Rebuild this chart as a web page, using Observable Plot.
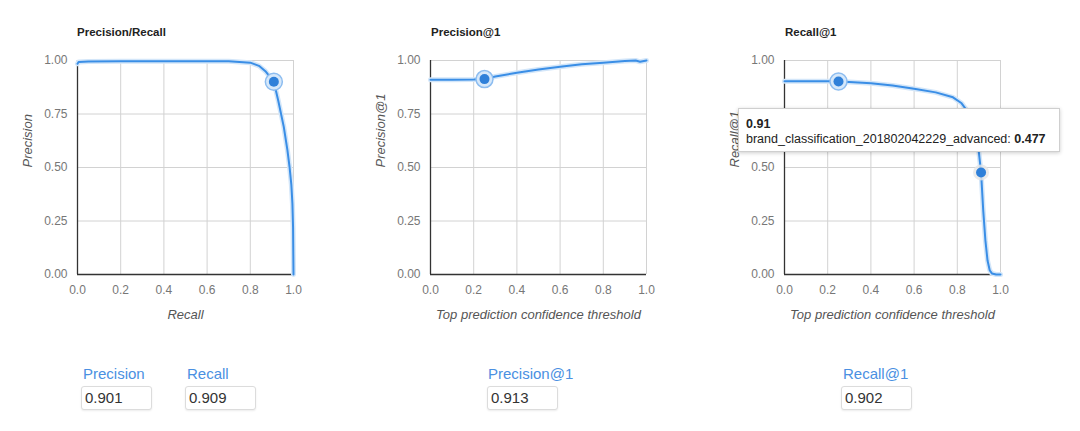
<!DOCTYPE html>
<html><head><meta charset="utf-8">
<script src="https://cdn.jsdelivr.net/npm/d3@7"></script>
<script src="https://cdn.jsdelivr.net/npm/@observablehq/plot@0.6"></script>
<style>
body{margin:0;background:#fff;font-family:"Liberation Sans",Arial,sans-serif;}
#root{position:relative;width:1080px;height:431px;overflow:hidden;background:#fff;}
.title{position:absolute;top:26px;font-weight:bold;font-size:11.5px;color:#222;line-height:12px;white-space:nowrap;}
.panel{position:absolute;top:44px;}
.flabel{position:absolute;top:366px;font-size:15px;color:#4a90e2;line-height:15px;white-space:nowrap;}
.fbox{position:absolute;top:386px;width:71px;height:24px;border:1px solid #dcdcdc;border-radius:3px;box-shadow:0 1px 2px rgba(0,0,0,0.08);font-size:15px;color:#333;line-height:22px;padding-left:3px;box-sizing:border-box;background:#fff;}
.tip{position:absolute;left:738px;top:108px;width:322px;height:44px;background:#fff;border:1px solid #cfcfcf;box-shadow:0 1px 4px rgba(0,0,0,0.2);box-sizing:border-box;}
.tip div{position:absolute;left:7px;font-size:12.5px;line-height:12px;color:#222;white-space:nowrap;}
</style>
</head><body>
<div id="root"></div>
<script>
// ---- data ----
const prRecall    = [0, 0.005, 0.05, 0.2, 0.4, 0.6, 0.7, 0.8, 0.84, 0.87, 0.9, 0.909, 0.93, 0.955, 0.972, 0.982, 0.99, 0.995, 0.998, 1.0];
const prPrecision = [0.985, 0.993, 0.995, 0.996, 0.997, 0.997, 0.996, 0.99, 0.975, 0.95, 0.912, 0.901, 0.81, 0.69, 0.58, 0.5, 0.42, 0.33, 0.22, 0.0];
const thrP         = [0, 0.1, 0.2, 0.25, 0.3, 0.4, 0.5, 0.6, 0.7, 0.8, 0.9, 0.95, 0.97, 1.0];
const precisionAt1 = [0.91, 0.91, 0.911, 0.913, 0.925, 0.943, 0.958, 0.971, 0.982, 0.99, 0.998, 1.0, 0.994, 1.0];
const thrR      = [0, 0.1, 0.2, 0.25, 0.3, 0.4, 0.5, 0.6, 0.7, 0.78, 0.82, 0.845, 0.87, 0.89, 0.9, 0.91, 0.92, 0.93, 0.94, 0.95, 0.96, 0.98, 1.0];
const recallAt1 = [0.903, 0.903, 0.903, 0.902, 0.9, 0.894, 0.883, 0.868, 0.851, 0.828, 0.8, 0.765, 0.7, 0.62, 0.57, 0.477, 0.3, 0.16, 0.065, 0.02, 0.005, 0.0, 0.0];
const panelTitles = ["Precision/Recall", "Precision@1", "Recall@1"];
const xLabels = ["Recall", "Top prediction confidence threshold", "Top prediction confidence threshold"];
const yLabels = ["Precision", "Precision@1", "Recall@1"];
const xTicks = [0, 0.2, 0.4, 0.6, 0.8, 1];
const yTicks = [0, 0.25, 0.5, 0.75, 1];
const selX = [0.909, 0.25, 0.25];
const selY = [0.901, 0.913, 0.902];
const hoverX = [0.91];
const hoverY = [0.477];
const fieldLabels = ["Precision", "Recall", "Precision@1", "Recall@1"];
const fieldValues = ["0.901", "0.909", "0.913", "0.902"];
const tipTitle = "0.91";
const tipSeries = "brand_classification_201802042229_advanced";
const tipValue = "0.477";

// ---- layout ----
const root = document.getElementById("root");
const panelLeft = [0, 353, 707];
const titleLeft = [77, 431, 785];
const fieldLabelLeft = [83, 187, 488, 843];
const fieldBoxLeft = [81, 185, 487, 841];
const blue = "#3a8ee6";
const series = [[prRecall, prPrecision], [thrP, precisionAt1], [thrR, recallAt1]];

function makePanel(i) {
  const [xs, ys] = series[i];
  const data = xs.map((x, j) => ({x, y: ys[j]}));
  const marks = [
    Plot.gridX(xTicks, {stroke: "#d2d2d2", strokeOpacity: 1}),
    Plot.gridY(yTicks, {stroke: "#d2d2d2", strokeOpacity: 1}),
    Plot.axisX(xTicks, {tickSize: 0, tickPadding: 11, tickFormat: d3.format(".1f"), fontSize: 12, color: "#777", label: null}),
    Plot.axisY(yTicks, {tickSize: 0, tickPadding: 10, tickFormat: d3.format(".2f"), fontSize: 12, color: "#777", label: null}),
    Plot.ruleX([0], {stroke: "#333", strokeWidth: 1.3}),
    Plot.ruleY([0], {stroke: "#333", strokeWidth: 1.3}),
    Plot.line(data, {x: "x", y: "y", stroke: "#d3e6f9", strokeWidth: 5}),
    Plot.line(data, {x: "x", y: "y", stroke: blue, strokeWidth: 2}),
    Plot.dot([0], {x: () => selX[i], y: () => selY[i], r: 8.5, fill: "#d6e8fa", stroke: "#8dbdf0", strokeWidth: 1.5}),
    Plot.dot([0], {x: () => selX[i], y: () => selY[i], r: 5, fill: "#2f80d9"}),
    Plot.text([xLabels[i]], {text: d => d, frameAnchor: "bottom", dy: 44, fontStyle: "italic", fontSize: 13, fill: "#555"}),
    Plot.text([yLabels[i]], {text: d => d, frameAnchor: "left", dx: -50, rotate: -90, fontStyle: "italic", fontSize: 13, fill: "#555"})
  ];
  if (i === 2) {
    const hv = hoverX.map((x, j) => ({x, y: hoverY[j]}));
    marks.push(Plot.dot(hv, {x: "x", y: "y", r: 8, fill: "#e6e6e6", fillOpacity: 0.8}));
    marks.push(Plot.dot(hv, {x: "x", y: "y", r: 5, fill: "#2f80d9"}));
  }
  const svg = Plot.plot({
    width: 353, height: 290,
    marginLeft: 77, marginRight: 60, marginTop: 16, marginBottom: 60,
    style: {fontFamily: "'Liberation Sans', Arial, sans-serif", background: "transparent", overflow: "visible"},
    x: {domain: [0, 1]},
    y: {domain: [0, 1]},
    marks
  });
  const wrap = document.createElement("div");
  wrap.className = "panel";
  wrap.style.left = panelLeft[i] + "px";
  wrap.appendChild(svg);
  root.appendChild(wrap);

  const t = document.createElement("div");
  t.className = "title";
  t.style.left = titleLeft[i] + "px";
  t.textContent = panelTitles[i];
  root.appendChild(t);
}
[0, 1, 2].forEach(makePanel);

fieldLabels.forEach((lab, k) => {
  const l = document.createElement("div");
  l.className = "flabel";
  l.style.left = fieldLabelLeft[k] + "px";
  l.textContent = lab;
  root.appendChild(l);
  const b = document.createElement("div");
  b.className = "fbox";
  b.style.left = fieldBoxLeft[k] + "px";
  b.textContent = fieldValues[k];
  root.appendChild(b);
});

const tip = document.createElement("div");
tip.className = "tip";
const l1 = document.createElement("div");
l1.style.top = "9px"; l1.style.fontWeight = "bold";
l1.textContent = tipTitle;
const l2 = document.createElement("div");
l2.style.top = "24px";
l2.append(tipSeries + ": ");
const bv = document.createElement("b");
bv.textContent = tipValue;
l2.appendChild(bv);
tip.appendChild(l1); tip.appendChild(l2);
root.appendChild(tip);
</script>
</body></html>
